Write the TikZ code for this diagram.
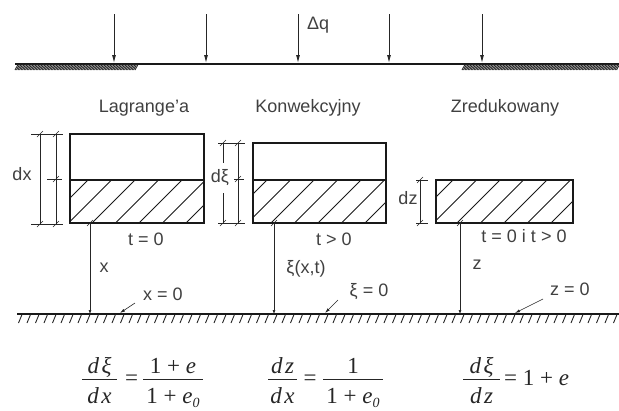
\documentclass[tikz,border=0pt]{standalone}
\usepackage{fontspec}
\setmainfont{Liberation Sans}
\newfontfamily\eqfont{Liberation Serif}
\usetikzlibrary{arrows.meta}
\newcommand{\lowsub}[1]{\raisebox{-4pt}{\fontsize{14}{14}\selectfont #1}}
\newcommand{\lgap}{\hspace{2.5pt}}
\newcommand{\dimtick}[2]{\draw[dimline] (#1-3,#2+3) -- (#1+3,#2-3);}
\tikzset{
  lab/.style={font=\fontsize{18}{20}\selectfont, text=black!75, inner sep=0pt},
  eq/.style={font=\eqfont\fontsize{23}{25}\selectfont\itshape, text=black!85, inner sep=0pt, anchor=base},
  boxline/.style={line width=1.3pt, black!90},
  hatchline/.style={line width=0.8pt, black!90},
  dimline/.style={line width=0.5pt, black!85},
  loadarrow/.style={line width=0.9pt, black!85, -{Latex[length=8pt,width=4pt]}},
  vline/.style={line width=0.6pt, black!85, -{Latex[length=4pt,width=3pt]}},
  leader/.style={line width=0.6pt, black!85, -{Latex[length=5pt,width=3pt]}},
  ground/.style={line width=1.4pt, black!90},
  fracbar/.style={line width=0.7pt, black!85}
}
\begin{document}
\begin{tikzpicture}[x=1pt,y=-1pt]
\useasboundingbox (0,0) rectangle (619,410);

% ---------- top loaded surface ----------
\draw[ground] (15,64) -- (619,64);
\foreach \x in {15,16.5,...,135} \draw[line width=0.9pt, black!85] (\x,70) -- (\x+3,64.5);
\foreach \x in {462,463.5,...,617} \draw[line width=0.9pt, black!85] (\x,70) -- (\x+3,64.5);
\foreach \x [count=\i] in {114,206,298,389,482} {
  \coordinate (at\i) at (\x,14);
  \coordinate (ab\i) at (\x,63);
  \draw[loadarrow] (at\i) -- (ab\i);
}
\node[lab, anchor=west] (dq) at (307,25) {Δq};

% ---------- titles ----------
\node[lab, anchor=base] (tl) at (144,112) {Lagrange'a};
\node[lab, anchor=base] (tk) at (308,112) {Konwekcyjny};
\node[lab, anchor=base] (tz) at (505,112) {Zredukowany};

% ---------- box 1 ----------
\begin{scope}
  \clip (70,180) rectangle (204,223);
  \foreach \k in {-1,...,7} \draw[hatchline] (45+23.5*\k,223) -- ++(43,-43);
\end{scope}
\draw[boxline] (70,134) rectangle (204,223);
\draw[boxline] (70,180) -- (204,180);
% dimensions box 1
\draw[dimline] (31,134) -- (63,134);
\draw[dimline] (31,224) -- (63,224);
\draw[dimline] (47,179) -- (62,179);
\draw[dimline] (40,134) -- (40,224);
\draw[dimline] (56,134) -- (56,224);
\dimtick{40}{134}\dimtick{56}{134}\dimtick{56}{179}\dimtick{40}{224}\dimtick{56}{224}
\node[lab] (ldx) at (22,174) {dx};

% ---------- box 2 ----------
\begin{scope}
  \clip (253,180) rectangle (386,223);
  \foreach \k in {-1,...,7} \draw[hatchline] (224+23.5*\k,223) -- ++(43,-43);
\end{scope}
\draw[boxline] (253,143) rectangle (386,223);
\draw[boxline] (253,180) -- (386,180);
\draw[dimline] (218,143) -- (245,143);
\draw[dimline] (218,223) -- (245,223);
\draw[dimline] (234,179) -- (244,179);
\draw[dimline] (223,143) -- (223,163);
\draw[dimline] (223,193) -- (223,223);
\draw[dimline] (238,143) -- (238,223);
\dimtick{223}{143}\dimtick{238}{143}\dimtick{238}{179}\dimtick{223}{223}\dimtick{238}{223}
\node[lab] (ldxi) at (220,178) {dξ};

% ---------- box 3 ----------
\begin{scope}
  \clip (436,180) rectangle (573,223);
  \foreach \k in {-1,...,7} \draw[hatchline] (410+23.5*\k,223) -- ++(43,-43);
\end{scope}
\draw[boxline] (436,180) rectangle (573,223);
\draw[dimline] (416,180) -- (428,180);
\draw[dimline] (416,223) -- (428,223);
\draw[dimline] (420,180) -- (420,223);
\dimtick{420}{180}\dimtick{420}{223}
\node[lab] (ldz) at (408,198) {dz};

% ---------- state labels ----------
\node[lab, anchor=base] (t1) at (146,245) {t = 0};
\node[lab, anchor=base] (t2) at (334,245) {t > 0};
\node[lab, anchor=base] (t3) at (524,242) {t = 0 i t > 0};

% ---------- bottom ground ----------
\draw[ground] (17,314) -- (619,314);
\foreach \x in {22,30.5,...,619} \draw[line width=0.9pt, black!85] (\x,314.5) -- (\x-3.5,323);

% verticals
\coordinate (v1t) at (90,223);  \coordinate (v1b) at (90,314);
\coordinate (v2t) at (274,223); \coordinate (v2b) at (274,314);
\coordinate (v3t) at (460,223); \coordinate (v3b) at (460,314);
\draw[vline] (v1t) -- (v1b);
\draw[vline] (v2t) -- (v2b);
\draw[vline] (v3t) -- (v3b);
\dimtick{90}{223}\dimtick{274}{223}\dimtick{460}{223}
\node[lab] (lx) at (104,268) {x};
\node[lab] (lxi) at (306,269) {ξ(x,t)};
\node[lab] (lz) at (477,265) {z};

% zero labels with leaders
\node[lab] (x0) at (163,294) {x = 0};
\node[lab] (xi0) at (369,292) {ξ = 0};
\node[lab] (z0) at (570,289) {z = 0};
\coordinate (l1a) at (135,303); \coordinate (l1b) at (120,313);
\coordinate (l2a) at (338,300); \coordinate (l2b) at (325,313);
\coordinate (l3a) at (543,299); \coordinate (l3b) at (515,313);
\draw[leader] (l1a) -- (l1b);
\draw[leader] (l2a) -- (l2b);
\draw[leader] (l3a) -- (l3b);

% ---------- equations ----------
% eq 1
\node[eq] (e1n) at (99.5,373) {d\lgap ξ};
\node[eq] (e1d) at (99.5,403) {d\lgap x};
\coordinate (b1a) at (82,379); \coordinate (b1b) at (117,379);
\draw[fracbar] (b1a) -- (b1b);
\node[eq] (e1q) at (131.5,385) {\upshape =};
\node[eq] (e1rn) at (173,373) {\upshape 1 + \itshape e};
\node[eq] (e1rd) at (173,403) {\upshape 1 + \itshape e\lowsub{0}};
\coordinate (b2a) at (143,379); \coordinate (b2b) at (203,379);
\draw[fracbar] (b2a) -- (b2b);
% eq 2
\node[eq] (e2n) at (282.5,373) {d\lgap z};
\node[eq] (e2d) at (282.5,403) {d\lgap x};
\coordinate (b3a) at (268,379); \coordinate (b3b) at (297,379);
\draw[fracbar] (b3a) -- (b3b);
\node[eq] (e2q) at (310,385) {\upshape =};
\node[eq] (e2rn) at (353,373) {\upshape 1};
\node[eq] (e2rd) at (353,403) {\upshape 1 + \itshape e\lowsub{0}};
\coordinate (b4a) at (323,379); \coordinate (b4b) at (383,379);
\draw[fracbar] (b4a) -- (b4b);
% eq 3
\node[eq] (e3n) at (481.5,373) {d\lgap ξ};
\node[eq] (e3d) at (481.5,403) {d\lgap z};
\coordinate (b5a) at (463,379); \coordinate (b5b) at (500,379);
\draw[fracbar] (b5a) -- (b5b);
\node[eq, anchor=base west] (e3r) at (504,385) {\upshape = 1 + \itshape e};
\end{tikzpicture}
\end{document}
